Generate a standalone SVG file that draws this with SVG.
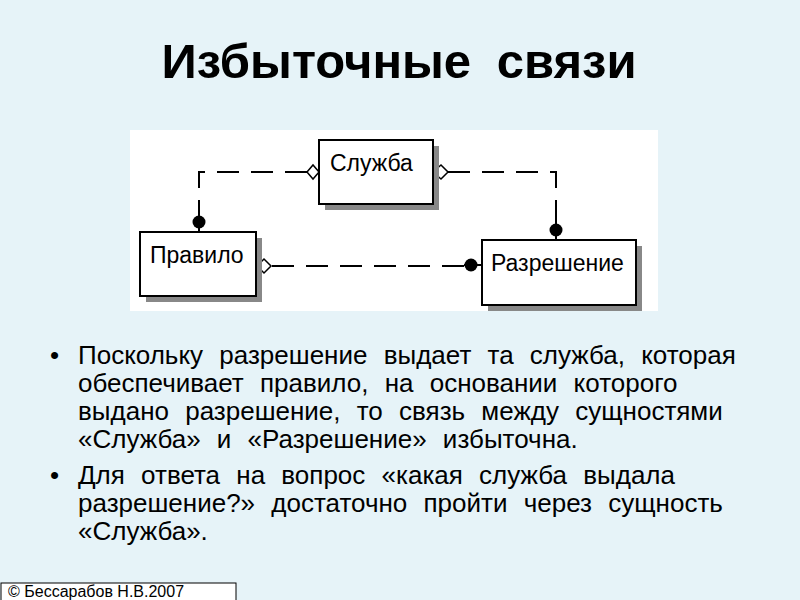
<svg xmlns="http://www.w3.org/2000/svg" width="800" height="600" viewBox="0 0 800 600">
<style>
.box{fill:#fff;stroke:#000;stroke-width:2}
.sh{fill:#888}
.lbl{font-family:"Liberation Sans",Arial,sans-serif;font-size:23px;fill:#000}
.ln{fill:none;stroke:#000;stroke-width:2;stroke-dasharray:22,12}
.dia{fill:#fff;stroke:#000;stroke-width:1.5}
.txt{font-family:"Liberation Sans",Arial,sans-serif;font-size:26px;fill:#000;word-spacing:9px}
</style>
<rect width="800" height="600" fill="#e6f3f8"/>
<text x="399" y="78" text-anchor="middle" font-family="Liberation Sans,Arial,sans-serif" font-weight="bold" font-size="49" word-spacing="12">Избыточные связи</text>
<rect x="130" y="130" width="528" height="181" fill="#fff"/>
<g id="connectors">
<path class="ln" d="M307,172 H199 V214"/>
<path class="ln" d="M448,172 H556 V224"/>
<path class="ln" d="M272,266 H464"/>
<path d="M199,206 V232 M556,216 V240 M464,265 H482" stroke="#000" stroke-width="2"/>
<circle cx="199" cy="222" r="6.5"/>
<circle cx="556" cy="230" r="6.5"/>
<circle cx="471" cy="265" r="6.5"/>
<polygon class="dia" points="307,172 313,165 319,172 313,179"/>
<polygon class="dia" points="433,172 441,165 448,172 441,179"/>
<polygon class="dia" points="257,266 264,259 271,266 264,273"/>
</g>
<g id="sluzhba"><rect class="sh" x="325" y="146" width="114" height="64"/><rect class="box" x="319" y="140" width="114" height="64"/><text class="lbl" x="330" y="171">Служба</text></g>
<g id="pravilo"><rect class="sh" x="146" y="238" width="116" height="64"/><rect class="box" x="140" y="232" width="116" height="64"/><text class="lbl" x="150" y="263">Правило</text></g>
<g id="razreshenie"><rect class="sh" x="488" y="246" width="154" height="65"/><rect class="box" x="482" y="240" width="154" height="65"/><text class="lbl" x="491" y="271">Разрешение</text></g>
<g class="txt">
<text x="50" y="364">•</text>
<text x="78" y="364">Поскольку разрешение выдает та служба, которая</text>
<text x="78" y="392">обеспечивает правило, на основании которого</text>
<text x="78" y="420">выдано разрешение, то связь между сущностями</text>
<text x="78" y="448">«Служба» и «Разрешение» избыточна.</text>
<text x="50" y="484">•</text>
<text x="78" y="484">Для ответа на вопрос «какая служба выдала</text>
<text x="78" y="512">разрешение?» достаточно пройти через сущность</text>
<text x="78" y="540">«Служба».</text>
</g>
<rect x="1" y="583" width="235" height="22" fill="#fff" stroke="#000"/>
<text x="8" y="597" font-family="Liberation Sans,Arial,sans-serif" font-size="16">© Бессарабов Н.В.2007</text>
</svg>
